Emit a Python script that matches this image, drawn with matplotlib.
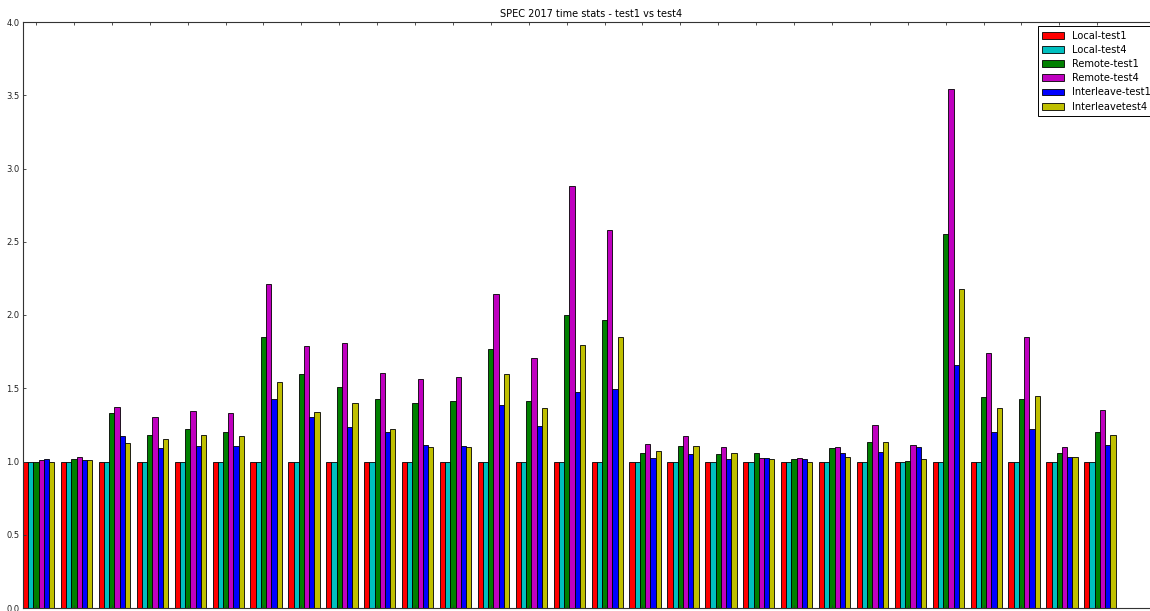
import numpy as np
import matplotlib
matplotlib.use("Agg")
import matplotlib.pyplot as plt

# Normalised run time per SPEC 2017 benchmark (Local-test1 = 1.0)
series_names = ["Local-test1", "Local-test4", "Remote-test1", "Remote-test4",
                "Interleave-test1", "Interleavetest4"]
series_colors = ["r", "c", "g", "m", "b", "y"]

local_test1 = [1.0] * 29
local_test4 = [1.0] * 29
remote_test1 = [1.00, 1.015, 1.33, 1.18, 1.22, 1.20, 1.85, 1.60, 1.51, 1.425,
                1.40, 1.41, 1.77, 1.41, 2.00, 1.965, 1.06, 1.107, 1.05, 1.055,
                1.02, 1.093, 1.134, 1.005, 2.555, 1.44, 1.425, 1.061, 1.198]
remote_test4 = [1.01, 1.03, 1.375, 1.307, 1.345, 1.33, 2.212, 1.787, 1.81, 1.605,
                1.565, 1.575, 2.146, 1.707, 2.881, 2.582, 1.12, 1.171, 1.10, 1.027,
                1.023, 1.096, 1.25, 1.114, 3.546, 1.743, 1.848, 1.102, 1.35]
interleave_test1 = [1.015, 1.013, 1.172, 1.09, 1.108, 1.104, 1.429, 1.302, 1.238, 1.201,
                    1.113, 1.104, 1.386, 1.242, 1.474, 1.497, 1.027, 1.05, 1.016, 1.027,
                    1.014, 1.061, 1.067, 1.100, 1.658, 1.200, 1.225, 1.032, 1.114]
interleave_test4 = [1.0, 1.01, 1.126, 1.154, 1.179, 1.174, 1.541, 1.336, 1.397, 1.222,
                    1.099, 1.097, 1.595, 1.363, 1.793, 1.848, 1.072, 1.109, 1.055, 1.014,
                    0.996, 1.034, 1.134, 1.015, 2.179, 1.364, 1.444, 1.032, 1.182]

series = [local_test1, local_test4, remote_test1, remote_test4,
          interleave_test1, interleave_test4]

n_groups = len(local_test1)
ind = np.arange(n_groups)
width = 0.138

W, H, DPI = 1150, 611, 100
fig = plt.figure(figsize=(W / DPI, H / DPI), dpi=DPI)
ax = fig.add_axes([23 / W, 3 / H, (1160 - 23) / W, 586 / H])

for i, (vals, name, col) in enumerate(zip(series, series_names, series_colors)):
    ax.bar(ind + i * width, vals, width, color=col, label=name, align="edge",
           edgecolor="black", linewidth=0.6)

ax.set_xlim(0, 30)
ax.set_ylim(0, 4.0)
yticks = np.arange(0, 4.01, 0.5)
ax.set_yticks(yticks)
ax.set_yticklabels([f"{v:.1f}" for v in yticks], fontsize=6.0)
ax.set_xticks(ind + 2.5 * width)
ax.set_xticklabels([])
ax.tick_params(direction="in", length=2.5, width=0.6, top=True, right=True,
               pad=2.5, colors="#333333", labelcolor="#222222")
for sp in ax.spines.values():
    sp.set_linewidth(0.8)
    sp.set_color("#333333")

ax.set_title("SPEC 2017 time stats - test1 vs test4", fontsize=7.0, pad=3.5)

leg = ax.legend(loc="upper right", fontsize=7.1, fancybox=False,
                framealpha=1, edgecolor="black", borderaxespad=0.45,
                labelspacing=0.42, handlelength=2.2, handletextpad=0.85,
                borderpad=0.45)
leg.get_frame().set_linewidth(0.7)

fig.savefig("out.png", dpi=DPI)
